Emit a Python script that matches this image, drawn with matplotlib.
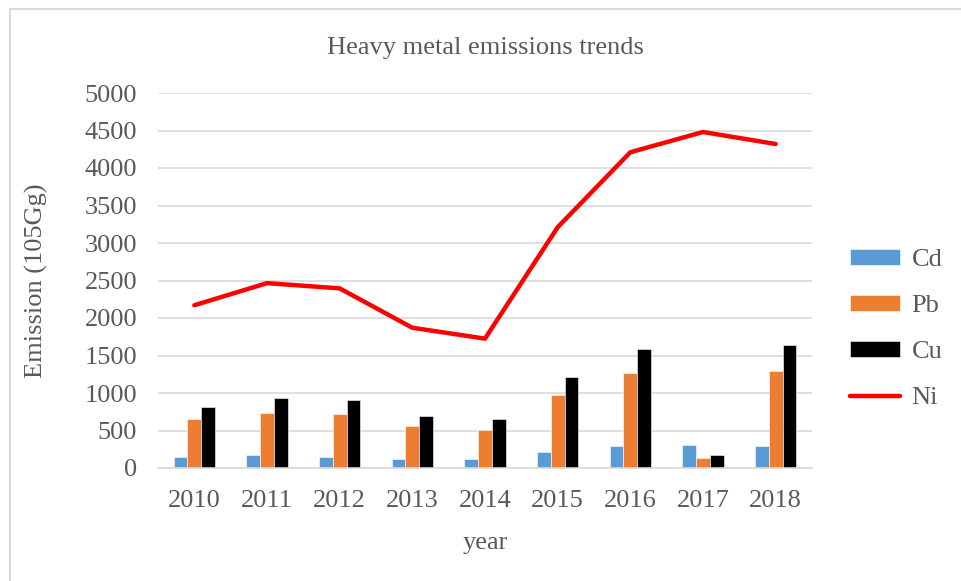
import numpy as np
import matplotlib.pyplot as plt
from matplotlib.patches import Rectangle

plt.rcParams['font.family'] = ['Liberation Serif', 'DejaVu Serif']

years = ['2010', '2011', '2012', '2013', '2014', '2015', '2016', '2017', '2018']
cd = [150, 170, 150, 120, 120, 220, 290, 305, 290]
pb = [650, 735, 720, 565, 510, 975, 1265, 135, 1300]
cu = [815, 935, 905, 700, 650, 1210, 1585, 170, 1640]
ni = [2170, 2465, 2395, 1870, 1725, 3210, 4210, 4480, 4320]

fig = plt.figure(figsize=(9.61, 5.81), dpi=100)
ax = fig.add_axes([158 / 961, 1 - 468 / 581, 654 / 961, 375 / 581])

# outer chart border
fig.patches.append(Rectangle((10 / 961, -0.01), 1.0, 1 - 9 / 581 + 0.01,
                             transform=fig.transFigure, fill=False,
                             edgecolor='#d9d9d9', linewidth=1.5))

x = np.arange(len(years))
w = 0.19
ax.bar(x - w, cd, w, color='#5b9bd5', label='Cd', edgecolor='white', linewidth=0.4)
ax.bar(x, pb, w, color='#ed7d31', label='Pb', edgecolor='white', linewidth=0.4)
ax.bar(x + w, cu, w, color='#000000', label='Cu', edgecolor='white', linewidth=0.4)
ax.plot(x, ni, color='#ff0000', linewidth=3.2, label='Ni', solid_capstyle='round')

ax.set_xlim(-0.5, len(years) - 0.5)
ax.set_ylim(0, 5000)
ax.set_yticks(range(0, 5001, 500))
ax.set_xticks(x)
ax.set_xticklabels(years)
ax.tick_params(axis='both', length=0, labelsize=19, colors='#595959')
ax.tick_params(axis='y', pad=15)
ax.tick_params(axis='x', pad=16)
ax.yaxis.grid(True, color='#d9d9d9', linewidth=1.2)
ax.set_axisbelow(True)
for s in ['top', 'right', 'left']:
    ax.spines[s].set_visible(False)
ax.spines['bottom'].set_color('#d9d9d9')
ax.spines['bottom'].set_linewidth(1.2)

ax.set_title('Heavy metal emissions trends', fontsize=19, color='#595959', pad=28)
ax.set_ylabel('Emission (105Gg)', fontsize=19, color='#595959', labelpad=26)
ax.set_xlabel('year', fontsize=19, color='#595959', labelpad=14)

handles, labels = ax.get_legend_handles_labels()
order = [1, 2, 3, 0]
ax.legend([handles[i] for i in order], [labels[i] for i in order],
          loc='center left', bbox_to_anchor=(837 / 961, 1 - 329 / 581),
          bbox_transform=fig.transFigure, frameon=False, borderpad=0,
          fontsize=19, labelcolor='#595959', handlelength=1.9,
          handletextpad=0.42, labelspacing=0.9, handleheight=0.55)

fig.savefig('out.png', dpi=100)
